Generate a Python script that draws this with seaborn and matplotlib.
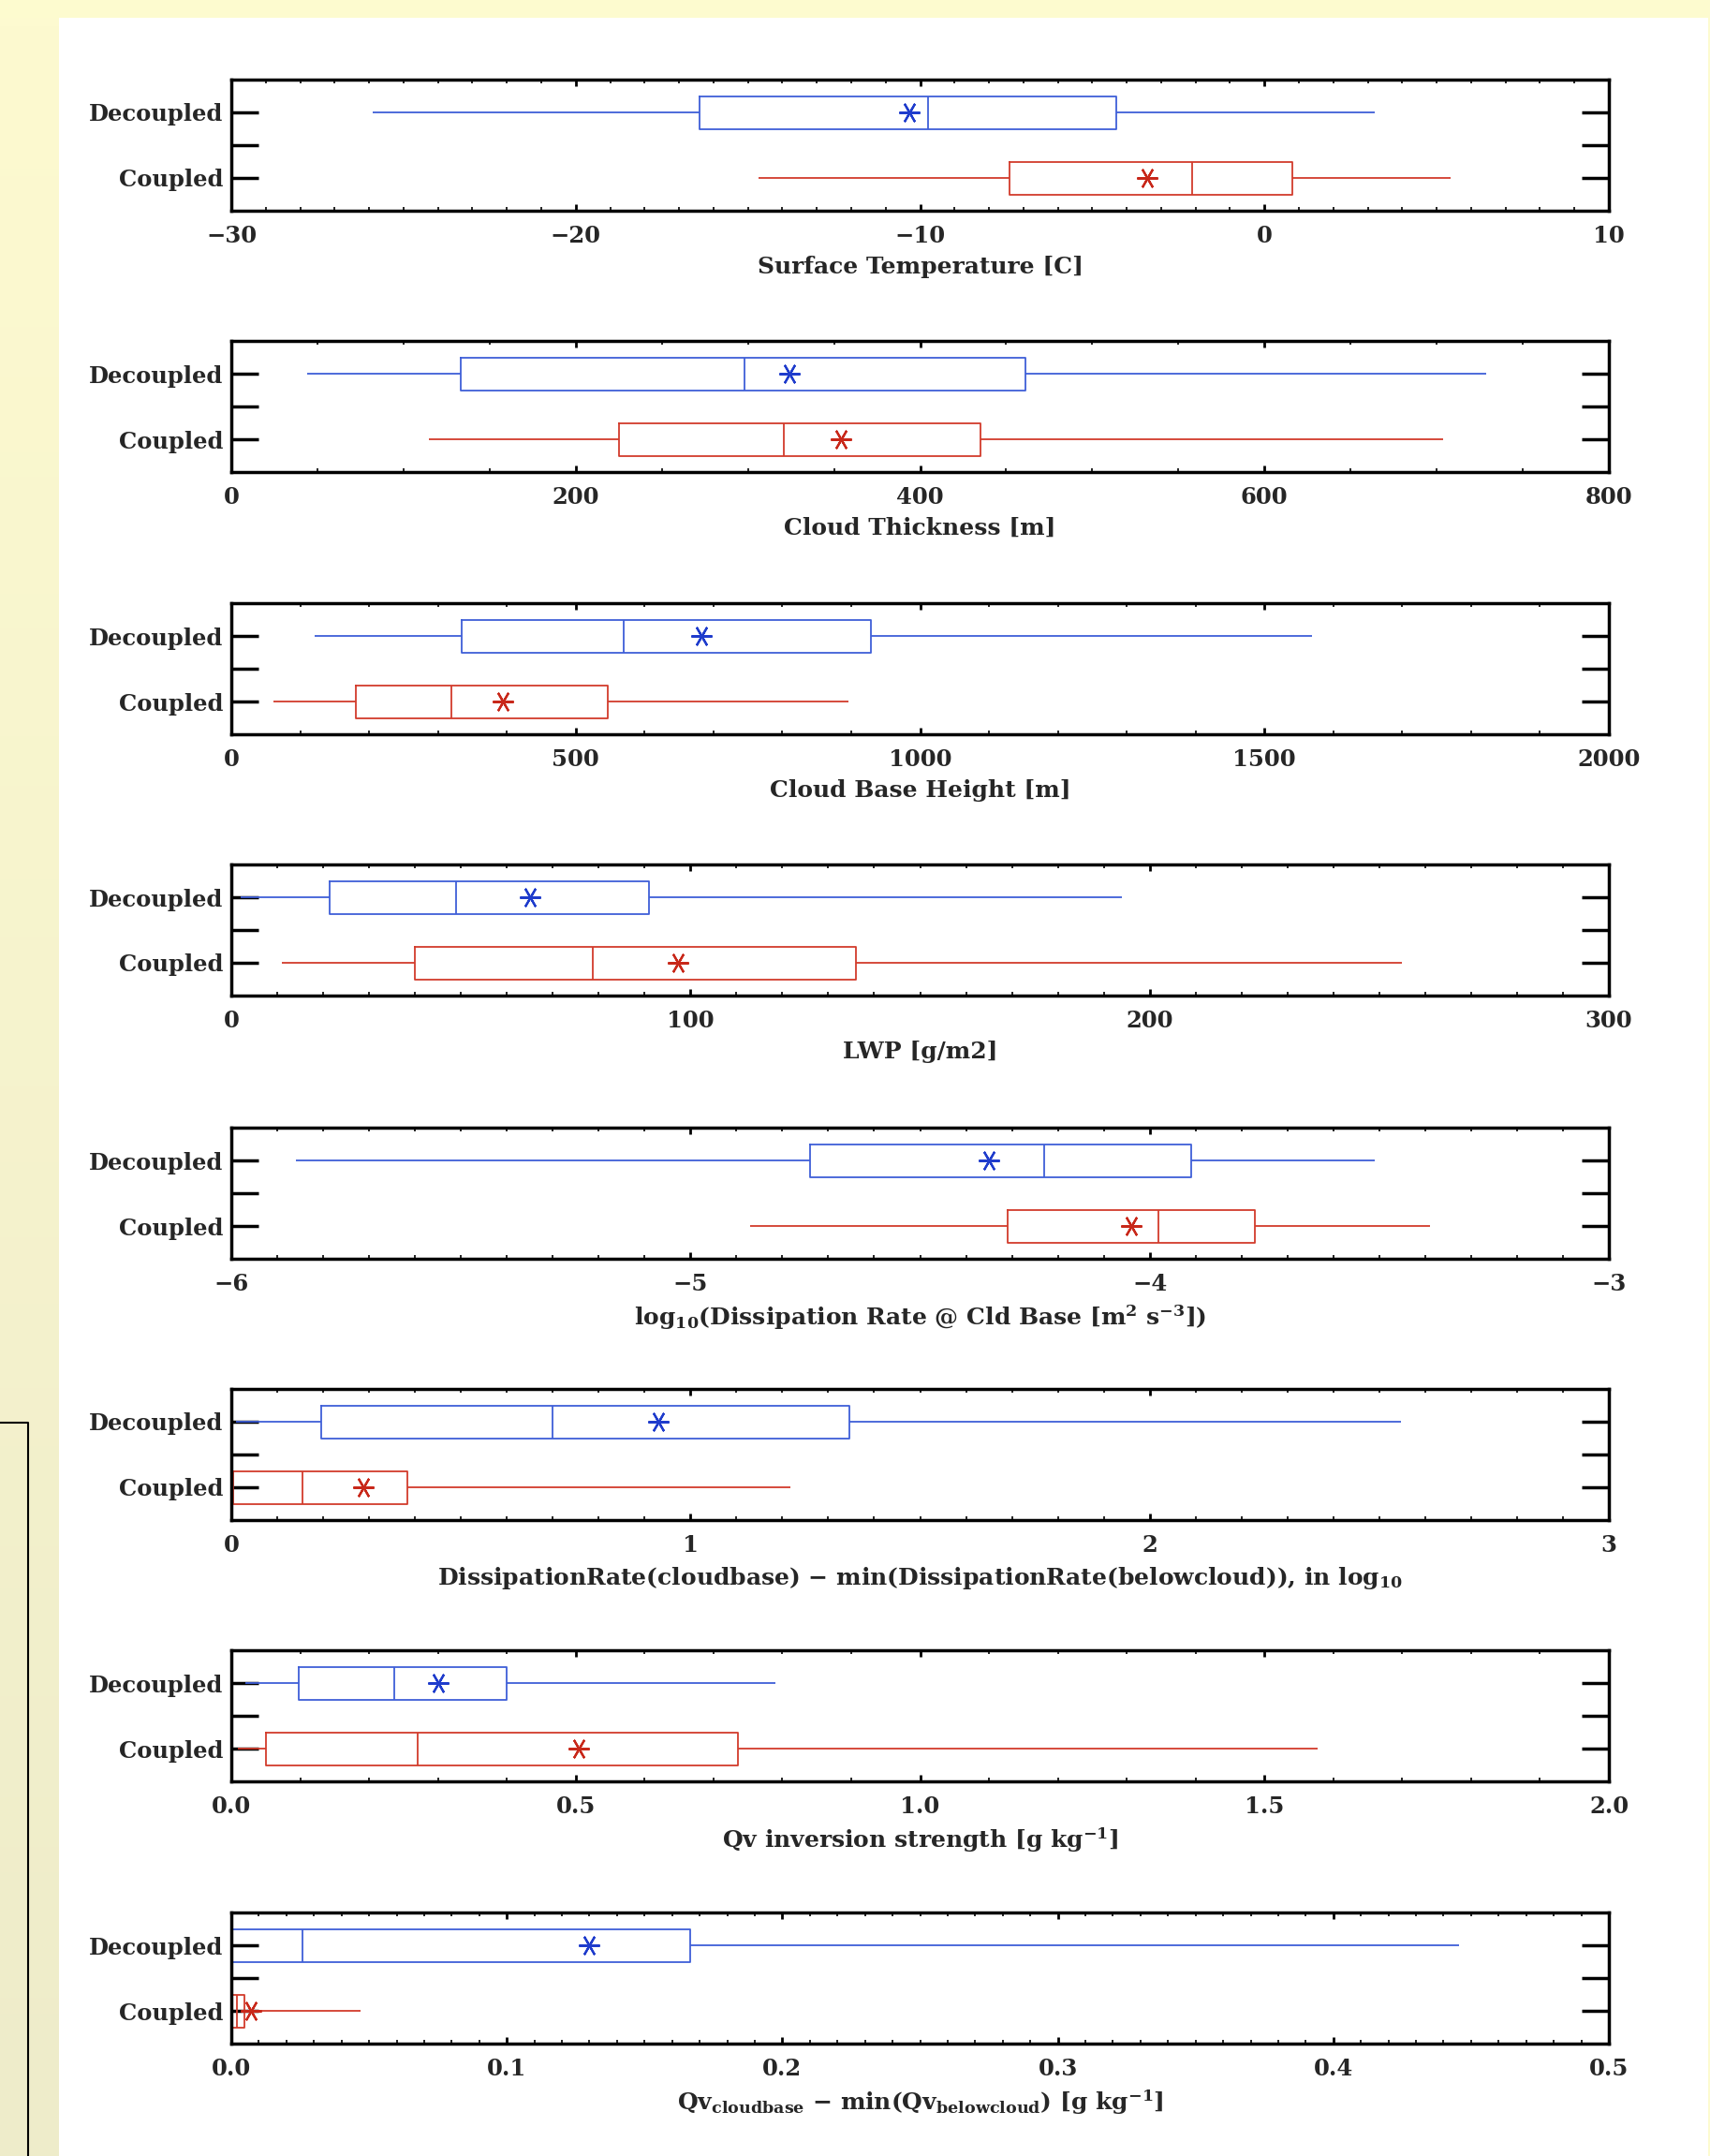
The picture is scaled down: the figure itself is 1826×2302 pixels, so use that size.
import numpy as np
import pandas as pd
import matplotlib
matplotlib.use("Agg")
import matplotlib.pyplot as plt
from matplotlib.ticker import MultipleLocator, AutoMinorLocator
from matplotlib.patches import Rectangle
import seaborn as sns

# five-number summaries: whisker low, q1, median, q3, whisker high
groups = ["Decoupled", "Coupled"]
decoupled_stats = [
    [-25.9, -16.4, -9.76, -4.3, 3.2],
    [44, 133, 298, 461, 729],
    [121, 334, 570, 929, 1569],
    [2, 21.5, 49, 91, 194],
    [-5.86, -4.74, -4.23, -3.91, -3.51],
    [0.01, 0.196, 0.70, 1.347, 2.547],
    [0.02, 0.098, 0.236, 0.40, 0.79],
    [0.0, 0.0, 0.0257, 0.1665, 0.4456],
]
coupled_stats = [
    [-14.7, -7.4, -2.1, 0.8, 5.4],
    [115, 225, 321, 435, 704],
    [61, 181, 319, 547, 896],
    [11, 40, 78.7, 136, 255],
    [-4.87, -4.31, -3.98, -3.77, -3.39],
    [0.0, 0.004, 0.154, 0.384, 1.218],
    [0.01, 0.05, 0.27, 0.736, 1.577],
    [0.0, 0.0, 0.002, 0.0046, 0.047],
]
decoupled_means = [-10.3, 324, 683, 65, -4.35, 0.929, 0.30, 0.130]
coupled_means = [-3.4, 354, 394, 97.3, -4.04, 0.287, 0.504, 0.0072]

xlabels = [
    "Surface Temperature [C]",
    "Cloud Thickness [m]",
    "Cloud Base Height [m]",
    "LWP [g/m2]",
    r"log$_{10}$(Dissipation Rate @ Cld Base [m$^{2}$ s$^{-3}$])",
    r"DissipationRate(cloudbase) $-$ min(DissipationRate(belowcloud)), in log$_{10}$",
    r"Qv inversion strength [g kg$^{-1}$]",
    r"Qv$_{cloudbase}$ $-$ min(Qv$_{belowcloud}$) [g kg$^{-1}$]",
]
xlims = [(-30, 10), (0, 800), (0, 2000), (0, 300), (-6, -3), (0, 3), (0, 2), (0, 0.5)]
major_steps = [10, 200, 500, 100, 1, 1, 0.5, 0.1]
minor_counts = [10, 4, 5, 10, 10, 10, 5, 10]

blue = "#3f5fd8"
red = "#d23c2c"
blue_dark = "#1f3ccc"
red_dark = "#c8281a"

sns.set_style("ticks")
plt.rcParams["font.family"] = ["DejaVu Serif"]
plt.rcParams["font.weight"] = "bold"
plt.rcParams["mathtext.fontset"] = "custom"
plt.rcParams["mathtext.rm"] = "DejaVu Serif:bold"
plt.rcParams["mathtext.it"] = "DejaVu Serif:bold"
plt.rcParams["mathtext.default"] = "rm"

W, H = 1826, 2302
fig = plt.figure(figsize=(W / 100, H / 100), dpi=100)
fig.patch.set_facecolor("#fdfbcf")

# slide background: white panel plus shaded strip on the left
fig.patches.append(Rectangle((62 / W, 0), (1824 - 62) / W, 1 - 19 / H,
                             transform=fig.transFigure, facecolor="white",
                             edgecolor="none", zorder=-10))
grad_ax = fig.add_axes([0, 0, 62 / W, 1 - 19 / H])
grad = np.linspace(0, 1, 256)[:, None]
cmap = matplotlib.colors.LinearSegmentedColormap.from_list("slide", ["#fdfad0", "#eeecca"])
grad_ax.imshow(grad, aspect="auto", cmap=cmap, extent=[0, 1, 0, 1])
grad_ax.plot([30 / 62, 30 / 62, 0], [0, 1 - (1519 - 19) / (H - 19), 1 - (1519 - 19) / (H - 19)],
             color="black", lw=1.5)
grad_ax.set_xlim(0, 1)
grad_ax.set_ylim(0, 1)
grad_ax.axis("off")

tops = [85, 364, 644, 923, 1204, 1483, 1762, 2042]
ax_h = 140
left, right = 247, 1718
tick_fs = 17.5
label_fs = 18

for i in range(len(xlabels)):
    ax = fig.add_axes([left / W, 1 - (tops[i] + ax_h) / H, (right - left) / W, ax_h / H])
    df = pd.DataFrame({
        "value": decoupled_stats[i] + coupled_stats[i],
        "group": ["Decoupled"] * 5 + ["Coupled"] * 5,
    })
    sns.boxplot(data=df, x="value", y="group", hue="group", order=groups,
                hue_order=groups, palette=[blue, red], whis=(0, 100), width=0.5,
                fill=False, showcaps=False, showfliers=False, linewidth=1.3,
                legend=False, ax=ax)
    ax.plot(decoupled_means[i], 0, marker=(6, 2, 90), ms=16, mew=1.6,
            color=blue_dark, ls="none", zorder=5)
    ax.plot(coupled_means[i], 1, marker=(6, 2, 90), ms=16, mew=1.6,
            color=red_dark, ls="none", zorder=5)

    ax.set_xlim(*xlims[i])
    ax.set_ylim(1.5, -0.5)
    ax.set_yticks([0, 0.5, 1])
    ax.set_yticklabels(["Decoupled", "", "Coupled"], fontsize=tick_fs, fontweight="bold")
    ax.set_ylabel("")
    ax.xaxis.set_major_locator(MultipleLocator(major_steps[i]))
    ax.xaxis.set_minor_locator(AutoMinorLocator(minor_counts[i]))
    ax.tick_params(axis="y", which="major", direction="in", left=True, right=True,
                   length=21, width=2.5, pad=6, color="black")
    ax.tick_params(axis="x", which="major", direction="in", top=True, bottom=True,
                   length=5, width=2, pad=11, labelsize=tick_fs, color="black")
    ax.tick_params(axis="x", which="minor", direction="in", top=True, bottom=True,
                   length=3, width=1.2, color="black")
    for lab in ax.get_xticklabels():
        lab.set_fontweight("bold")
    for sp in ax.spines.values():
        sp.set_visible(True)
        sp.set_linewidth(2.5)
        sp.set_color("black")
    ax.set_xlabel(xlabels[i], fontsize=label_fs, fontweight="bold", labelpad=6)
    ax.set_facecolor("white")

fig.savefig("out.png", dpi=100, facecolor=fig.get_facecolor())
